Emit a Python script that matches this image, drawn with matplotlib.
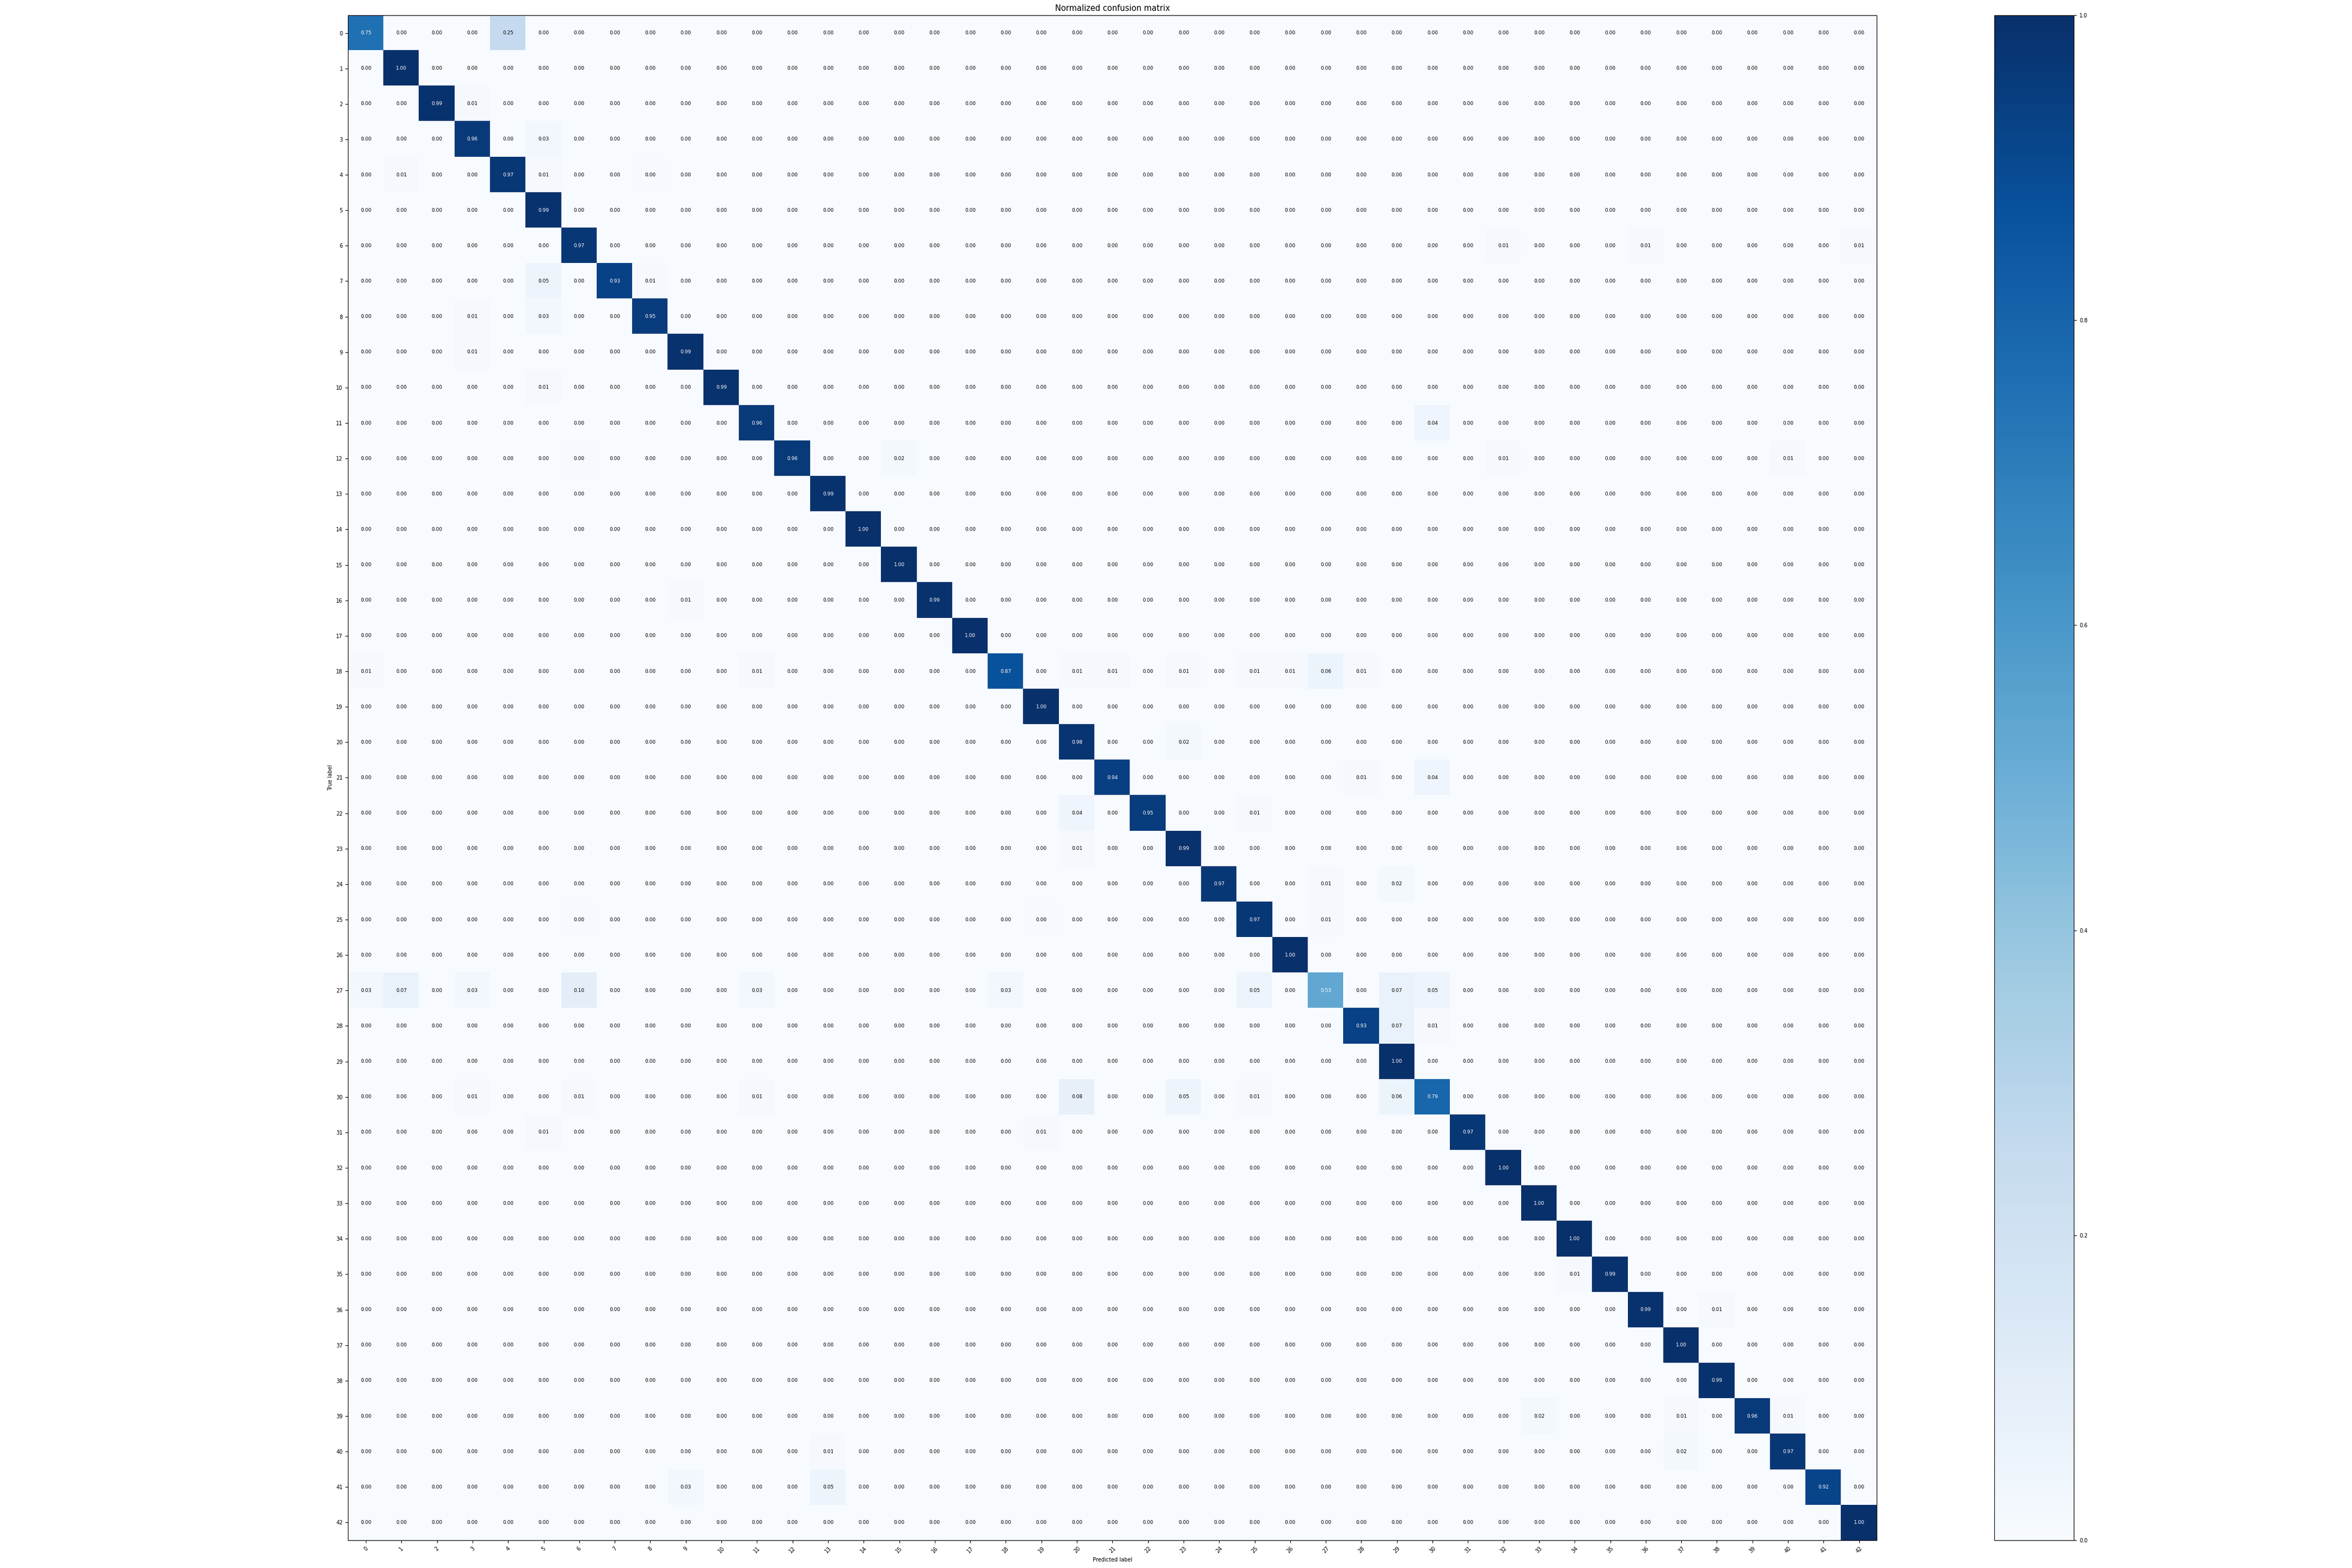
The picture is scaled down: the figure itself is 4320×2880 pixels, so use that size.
import numpy as np
import matplotlib
matplotlib.use('Agg')
import matplotlib.pyplot as plt

n_classes = 43
classes = [str(i) for i in range(n_classes)]

# diagonal (correct) rates per true class
diag = [0.75, 1.00, 0.99, 0.96, 0.97, 0.99, 0.97, 0.93, 0.95, 0.99,
        0.99, 0.96, 0.96, 0.99, 1.00, 1.00, 0.99, 1.00, 0.87, 1.00,
        0.98, 0.94, 0.95, 0.99, 0.97, 0.97, 1.00, 0.53, 0.93, 1.00,
        0.79, 0.97, 1.00, 1.00, 1.00, 0.99, 0.99, 1.00, 0.99, 0.96,
        0.97, 0.92, 1.00]

# off-diagonal confusions (true row, predicted col, rate)
off_rows = [0, 2, 3, 4, 4, 4, 6, 6, 6, 7, 7, 8, 8, 9, 10, 11, 12, 12, 12, 12,
            16, 18, 18, 18, 18, 18, 18, 18, 18, 18, 20, 21, 21, 22, 22, 23,
            24, 24, 25, 25, 25, 27, 27, 27, 27, 27, 27, 27, 27, 27, 28, 28,
            30, 30, 30, 30, 30, 30, 30, 31, 31, 35, 36, 39, 39, 39, 40, 40,
            41, 41]
off_cols = [4, 3, 5, 1, 5, 8, 32, 36, 42, 5, 8, 3, 5, 3, 5, 30, 15, 32, 40, 6,
            9, 0, 11, 20, 21, 23, 25, 26, 27, 28, 23, 28, 30, 20, 25, 20,
            27, 29, 27, 19, 6, 0, 1, 3, 6, 11, 18, 25, 29, 30, 29, 30,
            3, 6, 11, 20, 23, 25, 29, 5, 19, 34, 38, 33, 37, 40, 13, 37,
            9, 13]
off_vals = [0.25, 0.01, 0.03, 0.01, 0.01, 0.004, 0.01, 0.01, 0.01, 0.05, 0.01,
            0.01, 0.03, 0.01, 0.01, 0.04, 0.02, 0.01, 0.01, 0.004,
            0.01, 0.01, 0.01, 0.01, 0.01, 0.01, 0.01, 0.01, 0.06, 0.01,
            0.02, 0.01, 0.04, 0.04, 0.01, 0.01, 0.01, 0.02, 0.01, 0.004, 0.004,
            0.03, 0.07, 0.03, 0.10, 0.03, 0.03, 0.05, 0.07, 0.05, 0.07, 0.01,
            0.01, 0.01, 0.01, 0.08, 0.05, 0.01, 0.06, 0.01, 0.01, 0.01, 0.01,
            0.02, 0.01, 0.01, 0.01, 0.02, 0.03, 0.05]

cm = np.zeros((n_classes, n_classes))
cm[np.arange(n_classes), np.arange(n_classes)] = diag
cm[off_rows, off_cols] = off_vals

plt.rcParams['font.size'] = 7
fig = plt.figure(figsize=(43.2, 28.8), dpi=100)
ax = fig.add_axes([0.148, 0.0177, 0.650, 0.9726])
im = ax.imshow(cm, interpolation='nearest', cmap=plt.cm.Blues, vmin=0, vmax=1, aspect='auto')
ax.set_title('Normalized confusion matrix', fontsize=10.5)

cax = fig.add_axes([0.848, 0.0177, 0.0338, 0.9726])
cb = fig.colorbar(im, cax=cax)
cb.set_ticks([0.0, 0.2, 0.4, 0.6, 0.8, 1.0])

ax.set_xticks(np.arange(n_classes))
ax.set_xticklabels(classes, rotation=45)
ax.set_yticks(np.arange(n_classes))
ax.set_yticklabels(classes)

thresh = cm.max() / 2.
for i in range(n_classes):
    for j in range(n_classes):
        ax.text(j, i, format(cm[i, j], '.2f'), fontsize=6.5,
                ha='center', va='center',
                color='white' if cm[i, j] > thresh else 'black')

ax.set_ylabel('True label')
ax.set_xlabel('Predicted label')

fig.savefig('out.png')
